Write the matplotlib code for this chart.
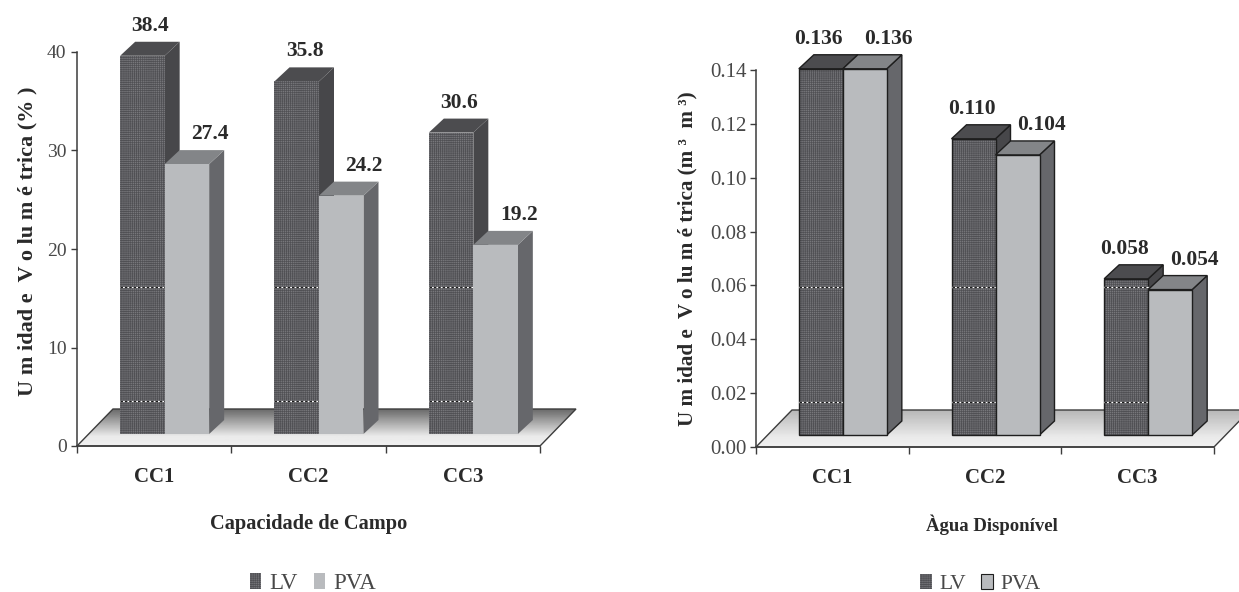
import matplotlib
matplotlib.use('Agg')
import matplotlib.pyplot as plt
import numpy as np
from matplotlib.patches import Polygon, Patch

plt.rcParams['font.family'] = ['Liberation Serif', 'DejaVu Serif']
plt.rcParams['hatch.linewidth'] = 0.5

W, H = 1239, 592

# data
groups = ['CC1', 'CC2', 'CC3']
cc_lv = [38.4, 35.8, 30.6]
cc_pva = [27.4, 24.2, 19.2]
cc_labels_lv = ['38.4', '35.8', '30.6']
cc_labels_pva = ['27.4', '24.2', '19.2']
ad_lv = [0.136, 0.110, 0.058]
ad_pva = [0.136, 0.104, 0.054]
ad_labels_lv = ['0.136', '0.110', '0.058']
ad_labels_pva = ['0.136', '0.104', '0.054']

DARK_FRONT = '#77777b'
DARK_HATCH = '#505054'
DARK_TOP = '#4c4c4f'
DARK_SIDE = '#47474a'
LIGHT_FRONT = '#b9bbbe'
LIGHT_TOP = '#838588'
LIGHT_SIDE = '#66676b'
TEXT = '#2a2a2a'
TICKS = '#484848'
HATCH = '++++++++'


def panel(rect, lv, pva, labels_lv, labels_pva, ymax, yticks, yfmt, xlabel, ylabel,
          edge, back_grey, lab_dx, lab_dy, bar_px, streaks, xlabel_size, ylabel_size, tick_size, tick_pad):
    x0, x1, ytop, ybot = rect
    ax = plt.gcf().add_axes([x0 / W, (H - ybot) / H, (x1 - x0) / W, (ybot - ytop) / H])
    ax.patch.set_alpha(0)

    # pixel sizes turned into data units
    ux = 3 / (x1 - x0)
    uy = ymax / (ybot - ytop)
    floor_dx, floor_dy = 36 * ux, 37 * uy
    base_dx, base_dy = 10.5 * ux, 12 * uy
    depth_dx, depth_dy = 15 * ux, 14 * uy
    w = bar_px * ux

    # floor with gradient
    floor = Polygon([(0, 0), (floor_dx, floor_dy), (3 + floor_dx, floor_dy), (3, 0)],
                    closed=True, fc='none', ec='#3c3c3c', lw=1.0, clip_on=False, zorder=2)
    ax.add_patch(floor)
    grad = np.concatenate([np.linspace(0.94, 0.92, 8), np.linspace(0.92, back_grey, 24)]).reshape(-1, 1)
    im = ax.imshow(grad, extent=[0, 3 + floor_dx, 0, floor_dy], origin='lower', aspect='auto',
                   cmap='gray', vmin=0, vmax=1, zorder=1)
    im.set_clip_box(plt.gcf().bbox)
    im.set_clip_path(floor)
    ax.set_xlim(0, 3)
    ax.set_ylim(0, ymax)

    for i in range(3):
        cx = i + 0.5 + base_dx
        for j, (val, lab) in enumerate([(lv[i], labels_lv[i]), (pva[i], labels_pva[i])]):
            left = cx - w if j == 0 else cx
            right = left + w
            top = base_dy + val
            front_c, top_c, side_c = (DARK_FRONT, DARK_TOP, DARK_SIDE) if j == 0 else (LIGHT_FRONT, LIGHT_TOP, LIGHT_SIDE)
            z = 3 + j
            ax.add_patch(Polygon([(right, base_dy), (right + depth_dx, base_dy + depth_dy),
                                  (right + depth_dx, top + depth_dy), (right, top)],
                                 fc=side_c, ec=edge, lw=1.0, zorder=z, clip_on=False))
            ax.add_patch(Polygon([(left, top), (left + depth_dx, top + depth_dy),
                                  (right + depth_dx, top + depth_dy), (right, top)],
                                 fc=top_c, ec=edge, lw=1.0, zorder=z, clip_on=False))
            front = [(left, base_dy), (left, top), (right, top), (right, base_dy)]
            if j == 0:
                ax.add_patch(Polygon(front, fc=front_c, ec=DARK_HATCH, hatch=HATCH, lw=0, zorder=z, clip_on=False))
                if edge != 'none':
                    ax.add_patch(Polygon(front, fc='none', ec=edge, lw=1.0, zorder=z, clip_on=False))
                # the scan leaves two dotted streaks across the dark bars
                for s in streaks:
                    if base_dy + s < top:
                        ax.plot([left, right], [base_dy + s] * 2, color='white', lw=0.9, zorder=z + 0.5)
                        ax.plot([left, right], [base_dy + s] * 2, color='#1c1c1c', lw=0.9,
                                ls=(0, (2, 1.5)), zorder=z + 0.6)
            else:
                ax.add_patch(Polygon(front, fc=front_c, ec=edge, lw=1.0, zorder=z, clip_on=False))
            ax.annotate(lab, (left + w / 2 + depth_dx, top + depth_dy),
                        xytext=(lab_dx[j] * 0.72, lab_dy * 0.72), textcoords='offset points',
                        ha='center', va='center', fontsize=15.5, fontweight='bold', color=TEXT,
                        annotation_clip=False, zorder=8)

    for s in ['top', 'right']:
        ax.spines[s].set_visible(False)
    for s in ['left', 'bottom']:
        ax.spines[s].set_color('#3c3c3c')
        ax.spines[s].set_linewidth(1.1)
        ax.spines[s].set_zorder(7)

    ax.set_yticks(yticks)
    ax.set_yticklabels([yfmt % t for t in yticks], fontsize=tick_size, color=TICKS)
    ax.tick_params(axis='y', length=4, width=1, color='#3c3c3c', pad=tick_pad)
    ax.set_xticks([0, 1, 2, 3])
    ax.set_xticklabels([])
    ax.tick_params(axis='x', which='major', length=5, width=1, color='#3c3c3c')
    ax.set_xticks([0.5, 1.5, 2.5], minor=True)
    ax.set_xticklabels(groups, minor=True, fontsize=15, fontweight='bold', color=TEXT)
    ax.tick_params(axis='x', which='minor', length=0, pad=15)

    ax.set_xlabel(xlabel, fontsize=xlabel_size, fontweight='bold', color=TEXT)
    ax.set_ylabel(ylabel, fontsize=ylabel_size, fontweight='bold', color=TEXT)
    return ax


fig = plt.figure(figsize=(W / 100, H / 100), dpi=100)

ax1 = panel((77, 540, 52, 446), cc_lv, cc_pva, cc_labels_lv, cc_labels_pva, 40,
            [0, 10, 20, 30, 40], '%d', 'Capacidade de Campo',
            'U m idad e  V o lu m é trica (% )', 'none', 0.42, (-7, 8), 16, 44.5, [3.35, 14.9],
            14.7, 16, 14, 3.5)
ax1.yaxis.set_label_coords(-0.086, 0.52)
ax1.xaxis.set_label_coords(0.5, -0.173)

ax2 = panel((756, 1214, 70, 447), ad_lv, ad_pva, ad_labels_lv, ad_labels_pva, 0.14,
            [0, 0.02, 0.04, 0.06, 0.08, 0.10, 0.12, 0.14], '%.2f', 'Àgua Disponível',
            'U m idad e  V o lu m é trica (m ³  m ³)', '#1e1e1e', 0.72, (-17, 9), 16, 44, [0.0123, 0.055],
            13.5, 15.2, 15, 3)
ax2.yaxis.set_label_coords(-0.127, 0.5)
ax2.xaxis.set_label_coords(0.515, -0.178)

for ax, anchor, hlen, size in [(ax1, (0.509, -0.35), 0.5, 16.5), (ax2, (0.49, -0.363), 0.55, 15.5)]:
    handles = [Patch(fc=DARK_FRONT, ec=DARK_HATCH, hatch=HATCH, lw=0),
               Patch(fc=LIGHT_FRONT, ec='none' if ax is ax1 else '#1e1e1e', lw=0.8)]
    ax.legend(handles, ['LV', 'PVA'], ncol=2, frameon=False, loc='center',
              bbox_to_anchor=anchor, fontsize=size, handlelength=hlen, handleheight=0.7,
              handletextpad=0.35, columnspacing=0.7, labelcolor=TICKS, borderpad=0, borderaxespad=0)

fig.savefig('out.png', dpi=100)
